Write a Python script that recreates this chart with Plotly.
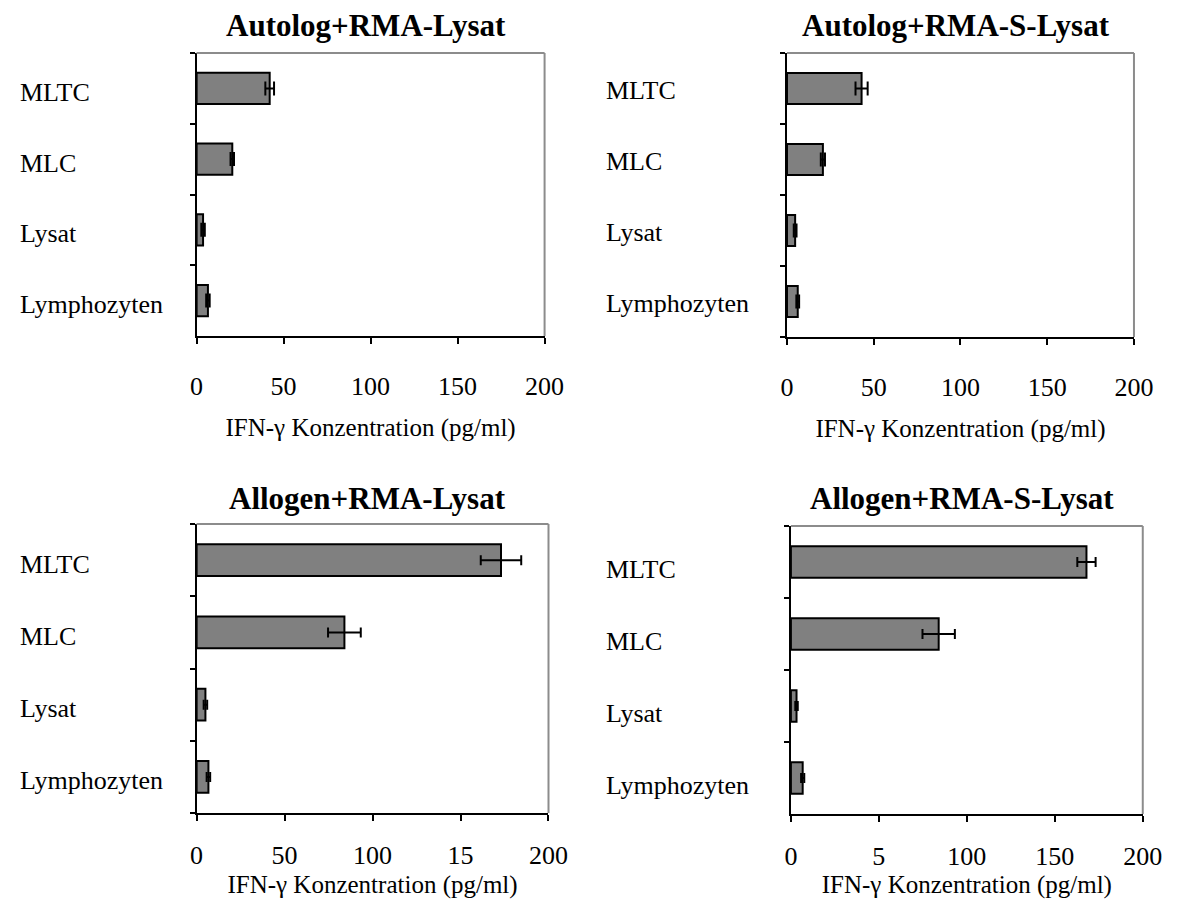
import plotly.graph_objects as go

W, H = 1196, 899

categories = ["MLTC", "MLC", "Lysat", "Lymphozyten"]

titles = ["Autolog+RMA-Lysat", "Autolog+RMA-S-Lysat",
          "Allogen+RMA-Lysat", "Allogen+RMA-S-Lysat"]

auto_rma = [42, 20.5, 3.7, 6.5]
auto_rma_err = [2.5, 1.0, 1.0, 1.0]
auto_rmas = [43, 20.7, 4.7, 6.2]
auto_rmas_err = [3.5, 1.2, 0.8, 0.8]
allo_rma = [173, 84, 5, 6.7]
allo_rma_err = [11.5, 9.3, 1.0, 1.0]
allo_rmas = [168, 84, 3.2, 6.7]
allo_rmas_err = [5.2, 9.2, 0.7, 0.9]

tick_vals = [0, 50, 100, 150, 200]
ticks_std = ["0", "50", "100", "150", "200"]
ticks_bl = ["0", "50", "100", "15", "200"]
ticks_br = ["0", "5", "100", "150", "200"]

x_title = "IFN-γ Konzentration (pg/ml)"

values = [auto_rma, auto_rmas, allo_rma, allo_rmas]
errors = [auto_rma_err, auto_rmas_err, allo_rma_err, allo_rmas_err]
tick_texts = [ticks_std, ticks_std, ticks_bl, ticks_br]

# layout geometry (pixels)
boxes = [  # left, right, top, bottom
    (194, 550, 53, 336),
    (798, 1153, 53, 337),
    (194, 554, 524, 813),
    (802, 1162, 526, 814),
]
label_x = [11, 611, 11, 611]
label_shift = [-4, -2, -4, -7]
title_y = [25, 25, 498, 498]
cap_w = [7, 7, 5, 5]
tick_standoff = [20, 20, 12, 12]
title_standoff = [18, 18, 6, 6]

FONT = "Times New Roman, Liberation Serif, serif"

fig = go.Figure()
annotations = []
shapes = []
for i in range(4):
    sfx = "" if i == 0 else str(i + 1)
    fig.add_trace(go.Bar(
        y=categories, x=values[i], orientation="h",
        xaxis="x" + sfx, yaxis="y" + sfx,
        marker=dict(color="#808080", line=dict(color="black", width=2)),
        error_x=dict(type="data", array=errors[i], color="black",
                     thickness=2, width=cap_w[i]),
        showlegend=False, hoverinfo="skip",
    ))
    l, r, t, b = boxes[i]
    xd = [l / W, r / W]
    yd = [1 - b / H, 1 - t / H]
    fig.update_layout(**{
        "xaxis" + sfx: dict(
            domain=xd, anchor="y" + sfx, range=[0, 200],
            tickvals=tick_vals, ticktext=tick_texts[i],
            ticks="outside", ticklen=6, tickwidth=1.5, tickcolor="black",
            showline=True, linecolor="black", linewidth=2,
            showgrid=False, zeroline=False,
            tickfont=dict(family=FONT, size=26, color="black"),
            ticklabelstandoff=tick_standoff[i],
            title=dict(text=x_title, standoff=title_standoff[i],
                       font=dict(family=FONT, size=25, color="black")),
            fixedrange=True,
        ),
        "yaxis" + sfx: dict(
            domain=yd, anchor="x" + sfx, type="category",
            categoryorder="array", categoryarray=categories[::-1],
            range=[-0.5, 3.5],
            tickson="boundaries", ticks="outside", ticklen=5,
            tickwidth=1.5, tickcolor="black",
            showticklabels=False,
            showline=True, linecolor="black", linewidth=2,
            showgrid=False, zeroline=False, fixedrange=True,
        ),
    })
    # gray top/right frame
    shapes.append(dict(type="line", xref="x" + sfx + " domain", yref="y" + sfx + " domain",
                       x0=0, x1=1, y0=1, y1=1, line=dict(color="#8c8c8c", width=2)))
    shapes.append(dict(type="line", xref="x" + sfx + " domain", yref="y" + sfx + " domain",
                       x0=1, x1=1, y0=0, y1=1, line=dict(color="#8c8c8c", width=2)))
    for c in categories:
        annotations.append(dict(
            text=c, xref="paper", yref="y" + sfx, x=label_x[i] / W, y=c,
            xanchor="left", yanchor="middle", yshift=label_shift[i],
            showarrow=False, font=dict(family=FONT, size=26, color="black")))
    annotations.append(dict(
        text="<b>" + titles[i] + "</b>", xref="paper", yref="paper",
        x=((l + r) / 2 - 5) / W, y=1 - title_y[i] / H,
        xanchor="center", yanchor="middle", showarrow=False,
        font=dict(family=FONT, size=31, color="black")))

fig.update_layout(
    width=W, height=H, autosize=False,
    margin=dict(l=0, r=0, t=0, b=0),
    paper_bgcolor="white", plot_bgcolor="white",
    bargap=0.56,
    annotations=annotations, shapes=shapes,
    font=dict(family=FONT, color="black"),
)

fig.write_html("out.html", config={"displayModeBar": False})
